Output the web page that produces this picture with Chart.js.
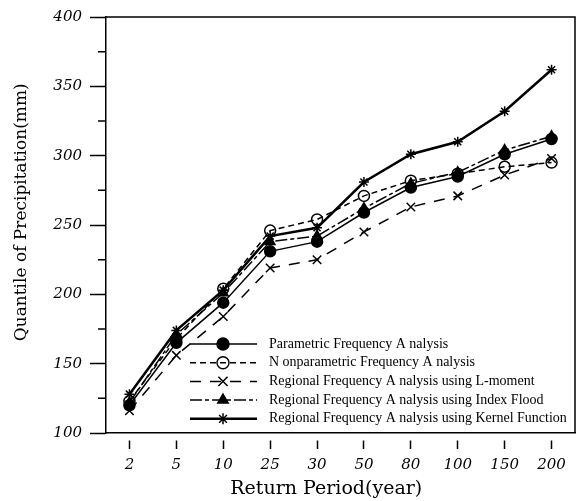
<!DOCTYPE html>
<html>
<head>
<meta charset="utf-8">
<script src="https://cdn.jsdelivr.net/npm/chart.js@4/dist/chart.umd.min.js"></script>
<style>
  html, body { margin: 0; padding: 0; background: #fff; }
  #wrap { width: 583px; height: 501px; }
</style>
</head>
<body>
<div id="wrap"><canvas id="chart" width="583" height="501"></canvas></div>
<script>
const returnPeriods = ["2", "5", "10", "25", "30", "50", "80", "100", "150", "200"];
const parametric    = [120, 165, 194, 231, 238, 259, 277, 285, 301, 312];
const nonparametric = [123, 168, 204, 246, 254, 271, 282, 287, 292, 295];
const lMoment       = [116, 156, 184, 219, 225, 245, 263, 271, 286, 298];
const indexFlood    = [122, 171, 201, 238, 242, 262, 280, 288, 304, 314];
const kernel        = [128, 174, 203, 242, 248, 281, 301, 310, 332, 362];
const yTicks = { min: 100, max: 400, step: 50 };

const ink = "#000";
const series = [
  { label: "Parametric Frequency A nalysis", data: parametric, dash: [], width: 1.5,
    point: "circle", r: 5.5, fill: ink },
  { label: "N onparametric Frequency A nalysis", data: nonparametric, dash: [6, 4], width: 1.5,
    point: "circle", r: 5.5, fill: "rgba(0,0,0,0)" },
  { label: "Regional Frequency A nalysis using L-moment", data: lMoment, dash: [11, 9], width: 1.5,
    point: "crossRot", r: 6, fill: ink },
  { label: "Regional Frequency A nalysis using Index Flood", data: indexFlood, dash: [12, 3, 4, 3], width: 1.5,
    point: "triangle", r: 5.5, fill: ink },
  { label: "Regional Frequency A nalysis using Kernel Function", data: kernel, dash: [], width: 2.5,
    point: "star", r: 5, fill: ink }
];

// frame (top + right) and minor y ticks
const framePlugin = {
  id: "frame",
  afterDraw(chart) {
    const { ctx, chartArea: a } = chart;
    const y = chart.scales.y;
    ctx.save();
    ctx.strokeStyle = ink;
    ctx.lineWidth = 1.5;
    ctx.beginPath();
    ctx.moveTo(a.left, a.top);
    ctx.lineTo(a.right, a.top);
    ctx.lineTo(a.right, a.bottom);
    for (let v = yTicks.min + yTicks.step / 2; v < yTicks.max; v += yTicks.step) {
      const py = y.getPixelForValue(v);
      ctx.moveTo(a.left - 8, py);
      ctx.lineTo(a.left, py);
    }
    ctx.stroke();
    ctx.restore();
  }
};

// legend with line sample + marker, like the original
const legendPlugin = {
  id: "lineLegend",
  afterDraw(chart) {
    const ctx = chart.ctx;
    const x0 = 190, x1 = 257, xm = 223, xt = 269, y0 = 344, dy = 18.7;
    ctx.save();
    ctx.font = "14px 'Liberation Serif'";
    ctx.textBaseline = "middle";
    chart.data.datasets.forEach((ds, i) => {
      const yy = y0 + i * dy;
      ctx.strokeStyle = ink;
      ctx.lineWidth = ds.borderWidth;
      ctx.setLineDash(ds.borderDash);
      ctx.beginPath();
      ctx.moveTo(x0, yy);
      ctx.lineTo(x1, yy);
      ctx.stroke();
      ctx.setLineDash([]);
      ctx.fillStyle = ds.pointBackgroundColor;
      ctx.lineWidth = 1.5;
      Chart.helpers.drawPoint(ctx, { pointStyle: ds.pointStyle, radius: ds.pointRadius + 0.5, rotation: 0, borderWidth: 1.5 }, xm, yy);
      ctx.fillStyle = ink;
      ctx.fillText(ds.label, xt, yy);
    });
    ctx.restore();
  }
};

new Chart(document.getElementById("chart"), {
  type: "line",
  data: {
    labels: returnPeriods,
    datasets: series.map((s) => ({
      label: s.label,
      data: s.data,
      borderColor: ink,
      borderWidth: s.width,
      borderDash: s.dash,
      pointStyle: s.point,
      pointRadius: s.r,
      pointBorderColor: ink,
      pointBorderWidth: 1.5,
      pointBackgroundColor: s.fill,
      tension: 0,
      fill: false
    }))
  },
  options: {
    responsive: false,
    animation: false,
    layout: { padding: { left: 0, right: 8, top: 13, bottom: 0 } },
    plugins: { legend: { display: false }, tooltip: { enabled: false } },
    scales: {
      x: {
        type: "category",
        offset: true,
        grid: { drawOnChartArea: false, tickLength: 16, tickWidth: 1.5, tickColor: ink, tickBorderDash: [0, 7, 9, 50] },
        border: { color: ink, width: 1.5 },
        ticks: { color: ink, padding: 7, font: { family: "'DejaVu Serif'", style: "italic", size: 15 } },
        title: { display: true, text: "Return Period(year)\u2003\u2002", color: ink, padding: { top: 0, bottom: 1 },
                 font: { family: "'DejaVu Serif'", size: 19 } },
        afterFit: (s) => { s.height = 68; }
      },
      y: {
        min: yTicks.min, max: yTicks.max,
        grid: { drawOnChartArea: false, tickLength: 16, tickWidth: 1.5, tickColor: ink },
        border: { color: ink, width: 1.5 },
        ticks: { stepSize: yTicks.step, color: ink, padding: 8, font: { family: "'DejaVu Serif'", style: "italic", size: 15 } },
        title: { display: true, text: "\u2003\u2002Quantile of Precipitation(mm)", color: ink, padding: { top: 11, bottom: 0 },
                 font: { family: "'DejaVu Serif'", size: 17 } },
        afterFit: (s) => { s.width = 106; }
      }
    }
  },
  plugins: [framePlugin, legendPlugin]
});
</script>
</body>
</html>
